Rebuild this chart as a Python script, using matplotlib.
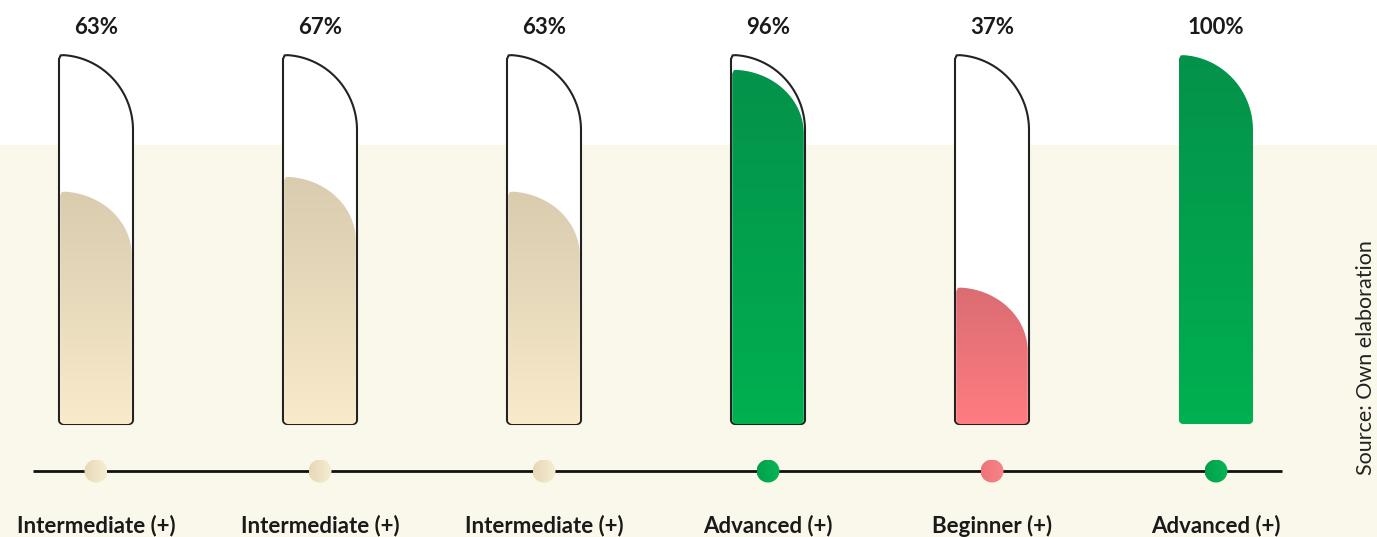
import numpy as np
import matplotlib
matplotlib.use("Agg")
import matplotlib.pyplot as plt
from matplotlib.path import Path
from matplotlib.patches import PathPatch, Ellipse, Rectangle
from matplotlib.colors import LinearSegmentedColormap

# ---- data ----
levels = ["Intermediate (+)", "Intermediate (+)", "Intermediate (+)",
          "Advanced (+)", "Beginner (+)", "Advanced (+)"]
scores = [63, 67, 63, 96, 37, 100]
groups = ["mid", "mid", "mid", "high", "low", "high"]

# gradient (top colour, bottom colour) per level group
palette = {
    "mid": ("#D9CCAF", "#F8EACA"),
    "high": ("#04924A", "#00B050"),
    "low": ("#DA6D73", "#FF7C81"),
}
dot_palette = {
    "mid": ("#E6D8B6", "#F6EDD3"),
    "high": ("#03A04C", "#06B655"),
    "low": ("#EE747A", "#F7848A"),
}

W, H = 1377, 537
fig = plt.figure(figsize=(W / 100, H / 100), dpi=100)
fig.patch.set_facecolor("white")
fig.patches.append(Rectangle((0, 0), 1, (H - 145) / H, transform=fig.transFigure,
                             facecolor="#FAF7EB", edgecolor="none", zorder=-1))

ax = fig.add_axes([0, 0, 1, 1])
ax.set_facecolor("none")
px_x = 224.0           # pixels per category step
px_y = 3.69            # pixels per percentage point
x0_px, y0_px = 96.0, 424.0
ax.set_xlim(-x0_px / px_x, (W - x0_px) / px_x)
ax.set_ylim(-(H - y0_px) / px_y, y0_px / px_y)
ax.axis("off")

bar_w = 74 / px_x
cr_x, cr_y = 4 / px_x, 4 / px_y
FONT = ["Lato", "DejaVu Sans"]


def bar_path(xl, xr, top, ry):
    """Left-flat column whose top is a quarter ellipse sweeping to the right side."""
    w = xr - xl
    verts = []
    # bottom-left rounded corner
    t = np.linspace(np.pi, 1.5 * np.pi, 8)
    verts += list(zip(xl + cr_x + cr_x * np.cos(t), cr_y + cr_y * np.sin(t)))
    # bottom-right rounded corner
    t = np.linspace(1.5 * np.pi, 2 * np.pi, 8)
    verts += list(zip(xr - cr_x + cr_x * np.cos(t), cr_y + cr_y * np.sin(t)))
    # quarter ellipse top
    t = np.linspace(0, np.pi / 2 * 0.96, 60)
    verts += list(zip(xl + w * np.cos(t), top - ry + ry * np.sin(t)))
    # small top-left rounding
    verts += [(xl + cr_x * 0.4, top - cr_y * 0.1), (xl, top - cr_y)]
    verts.append(verts[0])
    codes = [Path.MOVETO] + [Path.LINETO] * (len(verts) - 2) + [Path.CLOSEPOLY]
    return Path(verts, codes)


for i, (v, g) in enumerate(zip(scores, groups)):
    xl, xr = i - bar_w / 2, i + bar_w / 2
    full = v >= 100
    ry_track = 75 / px_y
    ry_fill = 64 / px_y if not full else ry_track
    if not full:
        track = PathPatch(bar_path(xl, xr, 100, ry_track), facecolor="white",
                          edgecolor="#222222", lw=1.5, zorder=2)
        ax.add_patch(track)
        inset = 1.2 / px_x
        fpath = bar_path(xl + inset, xr - inset, v, ry_fill)
    else:
        fpath = bar_path(xl, xr, v, ry_fill)
    clip = PathPatch(fpath, facecolor="none", edgecolor="none", zorder=3)
    ax.add_patch(clip)
    top_c, bot_c = palette[g]
    cmap = LinearSegmentedColormap.from_list(f"g{i}", [top_c, bot_c])
    grad = np.linspace(0, 1, 256).reshape(-1, 1)
    im = ax.imshow(grad, cmap=cmap, aspect="auto", extent=(xl, xr, 0, v),
                   origin="upper", zorder=3, interpolation="bilinear")
    im.set_clip_path(clip)

    ax.text(i, (y0_px - 27) / px_y, f"{v}%", ha="center", va="center",
            fontsize=16, fontweight="bold", color="#1a1a1a",
            family=FONT, zorder=5)
    ax.text(i, -(526 - y0_px) / px_y, levels[i], ha="center", va="center",
            fontsize=16, fontweight="bold", color="#1a1a1a",
            family=FONT, zorder=5)

# timeline with level markers
line_y = -(471 - y0_px) / px_y
ax.plot([(33 - x0_px) / px_x, (1282 - x0_px) / px_x], [line_y, line_y],
        color="#111111", lw=2, zorder=4, solid_capstyle="butt")
r_px = 11.5
for i, g in enumerate(groups):
    e = Ellipse((i, line_y), 2 * r_px / px_x, 2 * r_px / px_y,
                facecolor="none", edgecolor="none", zorder=5)
    ax.add_patch(e)
    c1, c2 = dot_palette[g]
    cmap = LinearSegmentedColormap.from_list(f"d{i}", [c1, c2])
    grad = np.linspace(0, 1, 64).reshape(1, -1)
    im = ax.imshow(grad, cmap=cmap, aspect="auto",
                   extent=(i - r_px / px_x, i + r_px / px_x,
                           line_y - r_px / px_y, line_y + r_px / px_y),
                   zorder=5, interpolation="bilinear")
    im.set_clip_path(e)

fig.text(1366 / W, 1 - 358 / H, "Source: Own elaboration", rotation=90,
         ha="center", va="center", fontsize=15.5, color="#222222",
         family=FONT)

fig.savefig("out.png", dpi=100, facecolor=fig.get_facecolor())
